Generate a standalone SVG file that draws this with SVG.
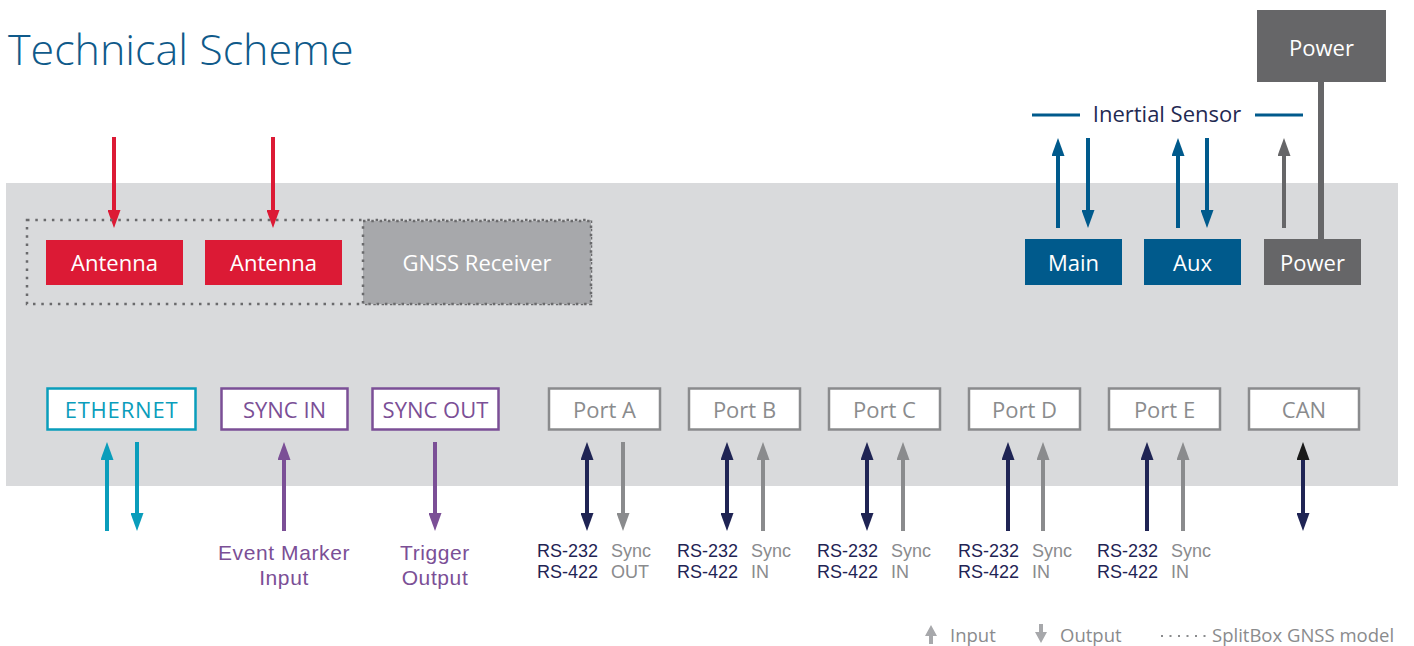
<svg xmlns="http://www.w3.org/2000/svg" width="1414" height="646" viewBox="0 0 1414 646">
<style>
text{font-family:"Open Sans","Liberation Sans",sans-serif}
.w{fill:#fff;font-size:22px;text-anchor:middle}
.port{fill:#fff;stroke:#8a8b8d;stroke-width:2.5}
.pt{fill:#8a8b8d;font-size:22px;text-anchor:middle}
.sh{stroke-width:4;fill:none}
.rs{font-family:"Liberation Sans",Arial,sans-serif;fill:#1f2454;font-size:18px;text-anchor:end}
.sy{font-family:"Liberation Sans",Arial,sans-serif;fill:#8a8b8d;font-size:18px}
.lg{fill:#8a8b8d;font-size:18.5px}
.pl{font-family:"Liberation Sans",Arial,sans-serif;fill:#7b4f96;font-size:21px;text-anchor:middle;letter-spacing:0.6px}
.dot{fill:none;stroke:#6a6a6c;stroke-width:2.5;stroke-dasharray:2.5 5.8}
</style>
<defs>
<marker id="mr" markerUnits="userSpaceOnUse" markerWidth="18" markerHeight="13" refX="1" refY="6.5" orient="auto-start-reverse"><path d="M0,0L18,6.5L0,13z" fill="#dc1a35"/></marker>
<marker id="mb" markerUnits="userSpaceOnUse" markerWidth="18" markerHeight="13" refX="1" refY="6.5" orient="auto-start-reverse"><path d="M0,0L18,6.5L0,13z" fill="#005a8c"/></marker>
<marker id="mg" markerUnits="userSpaceOnUse" markerWidth="18" markerHeight="13" refX="1" refY="6.5" orient="auto-start-reverse"><path d="M0,0L18,6.5L0,13z" fill="#666668"/></marker>
<marker id="mt" markerUnits="userSpaceOnUse" markerWidth="18" markerHeight="13" refX="1" refY="6.5" orient="auto-start-reverse"><path d="M0,0L18,6.5L0,13z" fill="#0a9dbb"/></marker>
<marker id="mp" markerUnits="userSpaceOnUse" markerWidth="18" markerHeight="13" refX="1" refY="6.5" orient="auto-start-reverse"><path d="M0,0L18,6.5L0,13z" fill="#7b4f96"/></marker>
<marker id="mn" markerUnits="userSpaceOnUse" markerWidth="18" markerHeight="13" refX="1" refY="6.5" orient="auto-start-reverse"><path d="M0,0L18,6.5L0,13z" fill="#1f2454"/></marker>
<marker id="ml" markerUnits="userSpaceOnUse" markerWidth="18" markerHeight="13" refX="1" refY="6.5" orient="auto-start-reverse"><path d="M0,0L18,6.5L0,13z" fill="#8a8b8d"/></marker>
<marker id="mk" markerUnits="userSpaceOnUse" markerWidth="18" markerHeight="13" refX="1" refY="6.5" orient="auto-start-reverse"><path d="M0,0L18,6.5L0,13z" fill="#1a1a1a"/></marker>
</defs>
<rect width="1414" height="646" fill="#fff"/>
<rect x="6" y="183" width="1392" height="303" fill="#d9dadc"/>
<text x="8" y="65" font-size="43" font-weight="300" fill="#0f5a8a">Technical Scheme</text>

<g id="connectors">
<line class="sh" stroke="#dc1a35" x1="114" y1="137" x2="114" y2="211" marker-end="url(#mr)"/>
<line class="sh" stroke="#dc1a35" x1="273" y1="137" x2="273" y2="211" marker-end="url(#mr)"/>
<line class="sh" stroke="#005a8c" x1="1058" y1="228" x2="1058" y2="155" marker-end="url(#mb)"/>
<line class="sh" stroke="#005a8c" x1="1088" y1="138" x2="1088" y2="211" marker-end="url(#mb)"/>
<line class="sh" stroke="#005a8c" x1="1178" y1="228" x2="1178" y2="155" marker-end="url(#mb)"/>
<line class="sh" stroke="#005a8c" x1="1207" y1="138" x2="1207" y2="211" marker-end="url(#mb)"/>
<line class="sh" stroke="#666668" x1="1284" y1="228" x2="1284" y2="155" marker-end="url(#mg)"/>
<line stroke="#666668" stroke-width="6" x1="1321" y1="82" x2="1321" y2="240"/>
<line class="sh" stroke="#0a9dbb" x1="107" y1="531" x2="107" y2="459" marker-end="url(#mt)"/>
<line class="sh" stroke="#0a9dbb" x1="137" y1="442" x2="137" y2="514" marker-end="url(#mt)"/>
<line class="sh" stroke="#7b4f96" x1="284" y1="531" x2="284" y2="459" marker-end="url(#mp)"/>
<line class="sh" stroke="#7b4f96" x1="435" y1="442" x2="435" y2="514" marker-end="url(#mp)"/>
<line class="sh" stroke="#1f2454" x1="587" y1="459" x2="587" y2="514" marker-start="url(#mn)" marker-end="url(#mn)"/>
<line class="sh" stroke="#8a8b8d" x1="623" y1="442" x2="623" y2="514" marker-end="url(#ml)"/>
<line class="sh" stroke="#1f2454" x1="727" y1="459" x2="727" y2="514" marker-start="url(#mn)" marker-end="url(#mn)"/>
<line class="sh" stroke="#8a8b8d" x1="763" y1="531" x2="763" y2="459" marker-end="url(#ml)"/>
<line class="sh" stroke="#1f2454" x1="867" y1="459" x2="867" y2="514" marker-start="url(#mn)" marker-end="url(#mn)"/>
<line class="sh" stroke="#8a8b8d" x1="903" y1="531" x2="903" y2="459" marker-end="url(#ml)"/>
<line class="sh" stroke="#1f2454" x1="1008" y1="531" x2="1008" y2="459" marker-end="url(#mn)"/>
<line class="sh" stroke="#8a8b8d" x1="1043" y1="531" x2="1043" y2="459" marker-end="url(#ml)"/>
<line class="sh" stroke="#1f2454" x1="1147" y1="531" x2="1147" y2="459" marker-end="url(#mn)"/>
<line class="sh" stroke="#8a8b8d" x1="1183" y1="531" x2="1183" y2="459" marker-end="url(#ml)"/>
<line class="sh" stroke="#1f2454" x1="1303" y1="459" x2="1303" y2="514" marker-start="url(#mk)" marker-end="url(#mn)"/>
</g>

<g id="splitbox">
<rect class="dot" x="27" y="220" width="564" height="84"/>
</g>
<g id="antenna1"><rect x="46" y="240" width="137" height="45" fill="#dc1a35"/><text class="w" x="114.5" y="271">Antenna</text></g>
<g id="antenna2"><rect x="205" y="240" width="137" height="45" fill="#dc1a35"/><text class="w" x="273.5" y="271">Antenna</text></g>
<g id="gnss"><rect x="363" y="221" width="228" height="83" fill="#a7a8ab"/><rect class="dot" x="363" y="221" width="228" height="83"/><text class="w" x="477" y="271">GNSS Receiver</text></g>

<g id="inertial">
<line x1="1032" y1="115" x2="1080" y2="115" stroke="#005a8c" stroke-width="3"/>
<line x1="1255" y1="115" x2="1303" y2="115" stroke="#005a8c" stroke-width="3"/>
<text x="1167" y="122" font-size="22" fill="#1f2a52" text-anchor="middle">Inertial Sensor</text>
</g>
<g id="powertop"><rect x="1257" y="10" width="129" height="72" fill="#666668"/><text class="w" x="1321.5" y="56">Power</text></g>
<g id="main"><rect x="1025" y="239" width="97" height="46" fill="#005a8c"/><text class="w" x="1073.5" y="271">Main</text></g>
<g id="aux"><rect x="1144" y="239" width="97" height="46" fill="#005a8c"/><text class="w" x="1192.5" y="271">Aux</text></g>
<g id="power"><rect x="1264" y="239" width="97" height="46" fill="#666668"/><text class="w" x="1312.5" y="271">Power</text></g>

<g id="ethernet"><rect x="47.5" y="388.5" width="148" height="41" fill="#fff" stroke="#0a9dbb" stroke-width="2.5"/><text x="121.5" y="418" font-size="22" fill="#0a9dbb" text-anchor="middle" letter-spacing="0.8">ETHERNET</text></g>
<g id="syncin"><rect x="221.5" y="388.5" width="126" height="41" fill="#fff" stroke="#7b4f96" stroke-width="2.5"/><text x="284.5" y="418" font-size="22" fill="#7b4f96" text-anchor="middle">SYNC IN</text></g>
<g id="syncout"><rect x="372.5" y="388.5" width="126" height="41" fill="#fff" stroke="#7b4f96" stroke-width="2.5"/><text x="435.5" y="418" font-size="22" fill="#7b4f96" text-anchor="middle">SYNC OUT</text></g>
<g id="porta"><rect class="port" x="549" y="388.5" width="111" height="41"/><text class="pt" x="604.5" y="418">Port A</text></g>
<g id="portb"><rect class="port" x="689" y="388.5" width="111" height="41"/><text class="pt" x="744.5" y="418">Port B</text></g>
<g id="portc"><rect class="port" x="829" y="388.5" width="111" height="41"/><text class="pt" x="884.5" y="418">Port C</text></g>
<g id="portd"><rect class="port" x="969" y="388.5" width="111" height="41"/><text class="pt" x="1024.5" y="418">Port D</text></g>
<g id="porte"><rect class="port" x="1109" y="388.5" width="111" height="41"/><text class="pt" x="1164.5" y="418">Port E</text></g>
<g id="can"><rect class="port" x="1249" y="388.5" width="110" height="41"/><text class="pt" x="1304" y="418">CAN</text></g>

<g id="labels">
<text class="pl"><tspan x="284" y="560">Event Marker</tspan><tspan x="284" y="584.5">Input</tspan></text>
<text class="pl"><tspan x="435" y="560">Trigger</tspan><tspan x="435" y="584.5">Output</tspan></text>
<text class="rs"><tspan x="598" y="557">RS-232</tspan><tspan x="598" y="578">RS-422</tspan></text>
<text class="sy"><tspan x="611" y="557">Sync</tspan><tspan x="611" y="578">OUT</tspan></text>
<text class="rs"><tspan x="738" y="557">RS-232</tspan><tspan x="738" y="578">RS-422</tspan></text>
<text class="sy"><tspan x="751" y="557">Sync</tspan><tspan x="751" y="578">IN</tspan></text>
<text class="rs"><tspan x="878" y="557">RS-232</tspan><tspan x="878" y="578">RS-422</tspan></text>
<text class="sy"><tspan x="891" y="557">Sync</tspan><tspan x="891" y="578">IN</tspan></text>
<text class="rs"><tspan x="1019" y="557">RS-232</tspan><tspan x="1019" y="578">RS-422</tspan></text>
<text class="sy"><tspan x="1032" y="557">Sync</tspan><tspan x="1032" y="578">IN</tspan></text>
<text class="rs"><tspan x="1158" y="557">RS-232</tspan><tspan x="1158" y="578">RS-422</tspan></text>
<text class="sy"><tspan x="1171" y="557">Sync</tspan><tspan x="1171" y="578">IN</tspan></text>
</g>

<g id="legend">
<path d="M931,625L937,636H933V644H929V636H925z" fill="#a7a8ab"/>
<text class="lg" x="950" y="642">Input</text>
<path d="M1041,643L1047,632H1043V624H1039V632H1035z" fill="#a7a8ab"/>
<text class="lg" x="1060" y="642">Output</text>
<line x1="1161" y1="636" x2="1206" y2="636" stroke="#8a8b8d" stroke-width="2" stroke-dasharray="2 6.5"/>
<text class="lg" x="1212" y="642" font-size="19">SplitBox GNSS model</text>
</g>
</svg>
